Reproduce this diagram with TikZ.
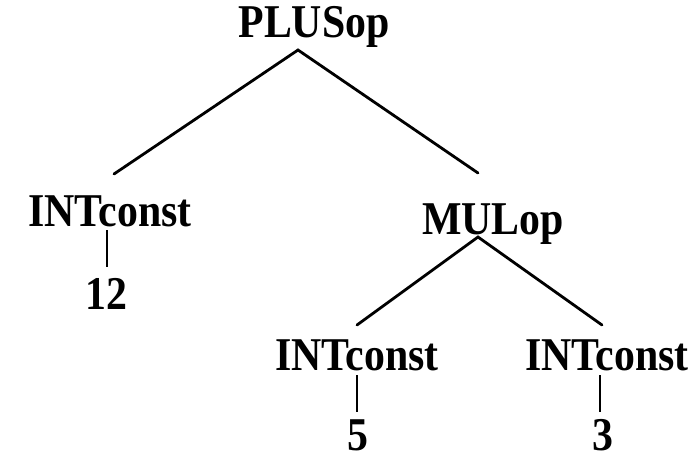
\documentclass[tikz,border=0pt]{standalone}
\usepackage{fontspec}
\setmainfont{Liberation Serif}[FakeStretch=0.89]
\begin{document}
\begin{tikzpicture}[x=1pt,y=-1pt,
  lbl/.style={anchor=base,inner sep=0pt,font=\fontsize{47}{50}\selectfont\bfseries},
  edge/.style={line width=2.8pt,line cap=round},
  stem/.style={line width=2.2pt}]
\useasboundingbox (0,0) rectangle (694,461);
% tree labels
\node[lbl] (plus) at (314,37) {PLUSop};
\node[lbl] (intA) at (110,226) {INTconst};
\node[lbl] (twelve) at (106,309) {12};
\node[lbl] (mul) at (493,234) {MULop};
\node[lbl] (intB) at (357,370) {INTconst};
\node[lbl] (intC) at (607,370) {INTconst};
\node[lbl] (five) at (358,450) {5};
\node[lbl] (three) at (603,450) {3};
% branch points
\coordinate (plusJ) at (298,50);
\coordinate (mulJ) at (478,237);
\coordinate (intAtop) at (114,174);
\coordinate (mulTop) at (478,173);
\coordinate (intBtop) at (357,325);
\coordinate (intCtop) at (602,325);
\coordinate (intAbot) at (107,230);
\coordinate (twelveTop) at (107,267);
\coordinate (intBbot) at (357,375);
\coordinate (fiveTop) at (357,412);
\coordinate (intCbot) at (600,375);
\coordinate (threeTop) at (600,412);
% edges
\draw[edge] (intAtop) -- (plusJ) -- (mulTop);
\draw[edge] (intBtop) -- (mulJ) -- (intCtop);
\draw[stem] (intAbot) -- (twelveTop);
\draw[stem] (intBbot) -- (fiveTop);
\draw[stem] (intCbot) -- (threeTop);
\end{tikzpicture}
\end{document}
